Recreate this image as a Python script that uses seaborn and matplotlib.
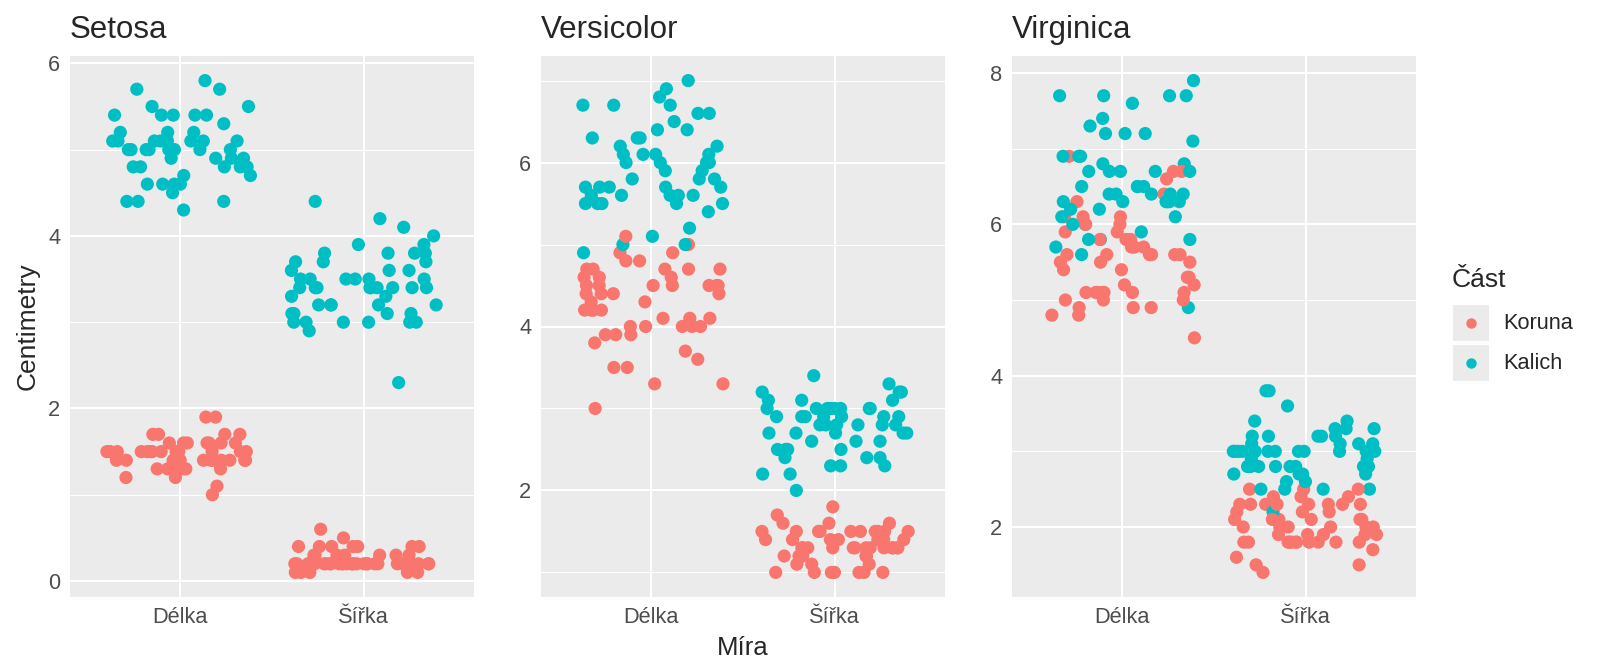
import numpy as np
import pandas as pd
import seaborn as sns
import matplotlib.pyplot as plt
from matplotlib.lines import Line2D
from matplotlib.ticker import MultipleLocator
from matplotlib.legend_handler import HandlerTuple, HandlerLine2D

# categories
species = ["Setosa", "Versicolor", "Virginica"]
measures = ["Délka", "Šířka"]
parts = ["Koruna", "Kalich"]
palette = {"Koruna": "#F8766D", "Kalich": "#00BFC4"}

# iris data, cm (Kalich = sepal, Koruna = petal)
setosa_kalich_delka = [5.1, 4.9, 4.7, 4.6, 5.0, 5.4, 4.6, 5.0, 4.4, 4.9, 5.4, 4.8, 4.8, 4.3, 5.8, 5.7, 5.4,
                       5.1, 5.7, 5.1, 5.4, 5.1, 4.6, 5.1, 4.8, 5.0, 5.0, 5.2, 5.2, 4.7, 4.8, 5.4, 5.2, 5.5,
                       4.9, 5.0, 5.5, 4.9, 4.4, 5.1, 5.0, 4.5, 4.4, 5.0, 5.1, 4.8, 5.1, 4.6, 5.3, 5.0]
setosa_kalich_sirka = [3.5, 3.0, 3.2, 3.1, 3.6, 3.9, 3.4, 3.4, 2.9, 3.1, 3.7, 3.4, 3.0, 3.0, 4.0, 4.4, 3.9,
                       3.5, 3.8, 3.8, 3.4, 3.7, 3.6, 3.3, 3.4, 3.0, 3.4, 3.5, 3.4, 3.2, 3.1, 3.4, 4.1, 4.2,
                       3.1, 3.2, 3.5, 3.6, 3.0, 3.4, 3.5, 2.3, 3.2, 3.5, 3.8, 3.0, 3.8, 3.2, 3.7, 3.3]
setosa_koruna_delka = [1.4, 1.4, 1.3, 1.5, 1.4, 1.7, 1.4, 1.5, 1.4, 1.5, 1.5, 1.6, 1.4, 1.1, 1.2, 1.5, 1.3,
                       1.4, 1.7, 1.5, 1.7, 1.5, 1.0, 1.7, 1.9, 1.6, 1.6, 1.5, 1.4, 1.6, 1.6, 1.5, 1.5, 1.4,
                       1.5, 1.2, 1.3, 1.4, 1.3, 1.5, 1.3, 1.3, 1.3, 1.6, 1.9, 1.4, 1.6, 1.4, 1.5, 1.4]
setosa_koruna_sirka = [0.2, 0.2, 0.2, 0.2, 0.2, 0.4, 0.3, 0.2, 0.2, 0.1, 0.2, 0.2, 0.1, 0.1, 0.2, 0.4, 0.4,
                       0.3, 0.3, 0.3, 0.2, 0.4, 0.2, 0.5, 0.2, 0.2, 0.4, 0.2, 0.2, 0.2, 0.2, 0.4, 0.1, 0.2,
                       0.2, 0.2, 0.2, 0.1, 0.2, 0.2, 0.3, 0.3, 0.2, 0.6, 0.4, 0.3, 0.2, 0.2, 0.2, 0.2]

versicolor_kalich_delka = [7.0, 6.4, 6.9, 5.5, 6.5, 5.7, 6.3, 4.9, 6.6, 5.2, 5.0, 5.9, 6.0, 6.1, 5.6, 6.7, 5.6,
                           5.8, 6.2, 5.6, 5.9, 6.1, 6.3, 6.1, 6.4, 6.6, 6.8, 6.7, 6.0, 5.7, 5.5, 5.5, 5.8, 6.0,
                           5.4, 6.0, 6.7, 6.3, 5.6, 5.5, 5.5, 6.1, 5.8, 5.0, 5.6, 5.7, 5.7, 6.2, 5.1, 5.7]
versicolor_kalich_sirka = [3.2, 3.2, 3.1, 2.3, 2.8, 2.8, 3.3, 2.4, 2.9, 2.7, 2.0, 3.0, 2.2, 2.9, 2.9, 3.1, 3.0,
                           2.7, 2.2, 2.5, 3.2, 2.8, 2.5, 2.8, 2.9, 3.0, 2.8, 3.0, 2.9, 2.6, 2.4, 2.4, 2.7, 2.7,
                           3.0, 3.4, 3.1, 2.3, 3.0, 2.5, 2.6, 3.0, 2.6, 2.3, 2.7, 3.0, 2.9, 2.9, 2.5, 2.8]
versicolor_koruna_delka = [4.7, 4.5, 4.9, 4.0, 4.6, 4.5, 4.7, 3.3, 4.6, 3.9, 3.5, 4.2, 4.0, 4.7, 3.6, 4.4, 4.5,
                           4.1, 4.5, 3.9, 4.8, 4.0, 4.9, 4.7, 4.3, 4.4, 4.8, 5.0, 4.5, 3.5, 3.8, 3.7, 3.9, 5.1,
                           4.5, 4.5, 4.7, 4.4, 4.1, 4.0, 4.4, 4.6, 4.0, 3.3, 4.2, 4.2, 4.2, 4.3, 3.0, 4.1]
versicolor_koruna_sirka = [1.4, 1.5, 1.5, 1.3, 1.5, 1.3, 1.6, 1.0, 1.3, 1.4, 1.0, 1.5, 1.0, 1.4, 1.3, 1.4, 1.5,
                           1.0, 1.5, 1.1, 1.8, 1.3, 1.5, 1.2, 1.3, 1.4, 1.4, 1.7, 1.5, 1.0, 1.1, 1.0, 1.2, 1.6,
                           1.5, 1.6, 1.5, 1.3, 1.3, 1.3, 1.2, 1.4, 1.2, 1.0, 1.3, 1.2, 1.3, 1.3, 1.1, 1.3]

virginica_kalich_delka = [6.3, 5.8, 7.1, 6.3, 6.5, 7.6, 4.9, 7.3, 6.7, 7.2, 6.5, 6.4, 6.8, 5.7, 5.8, 6.4, 6.5,
                          7.7, 7.7, 6.0, 6.9, 5.6, 7.7, 6.3, 6.7, 7.2, 6.2, 6.1, 6.4, 7.2, 7.4, 7.9, 6.4, 6.3,
                          6.1, 7.7, 6.3, 6.4, 6.0, 6.9, 6.7, 6.9, 5.8, 6.8, 6.7, 6.7, 6.3, 6.5, 6.2, 5.9]
virginica_kalich_sirka = [3.3, 2.7, 3.0, 2.9, 3.0, 3.0, 2.5, 2.9, 2.5, 3.6, 3.2, 2.7, 3.0, 2.5, 2.8, 3.2, 3.0,
                          3.8, 2.6, 2.2, 3.2, 2.8, 2.8, 2.7, 3.3, 3.2, 2.8, 3.0, 2.8, 3.0, 2.8, 3.8, 2.8, 2.8,
                          2.6, 3.0, 3.4, 3.1, 3.0, 3.1, 3.1, 3.1, 2.7, 3.2, 3.3, 3.0, 2.5, 3.0, 3.4, 3.0]
virginica_koruna_delka = [6.0, 5.1, 5.9, 5.6, 5.8, 6.6, 4.5, 6.3, 5.8, 6.1, 5.1, 5.3, 5.5, 5.0, 5.1, 5.3, 5.5,
                          6.7, 6.9, 5.0, 5.7, 4.9, 6.7, 4.9, 5.7, 6.0, 4.8, 4.9, 5.6, 5.8, 6.1, 6.4, 5.6, 5.1,
                          5.6, 6.1, 5.6, 5.5, 4.8, 5.4, 5.6, 5.1, 5.1, 5.9, 5.7, 5.2, 5.0, 5.2, 5.4, 5.1]
virginica_koruna_sirka = [2.5, 1.9, 2.1, 1.8, 2.2, 2.1, 1.7, 1.8, 1.8, 2.5, 2.0, 1.9, 2.1, 2.0, 2.4, 2.3, 1.8,
                          2.2, 2.3, 1.5, 2.3, 2.0, 2.0, 1.8, 2.1, 1.8, 1.8, 1.8, 2.1, 1.6, 1.9, 2.0, 2.2, 1.5,
                          1.4, 2.3, 2.4, 1.8, 1.8, 2.1, 2.4, 2.3, 1.9, 2.3, 2.5, 2.3, 1.9, 2.0, 2.3, 1.8]

data = {
    "Setosa": (setosa_kalich_delka, setosa_kalich_sirka, setosa_koruna_delka, setosa_koruna_sirka),
    "Versicolor": (versicolor_kalich_delka, versicolor_kalich_sirka, versicolor_koruna_delka, versicolor_koruna_sirka),
    "Virginica": (virginica_kalich_delka, virginica_kalich_sirka, virginica_koruna_delka, virginica_koruna_sirka),
}

# long format, one row per measurement (flower by flower)
rows = []
for sp in species:
    kd, ks, rd, rs = data[sp]
    for i in range(len(kd)):
        rows.append((sp, "Kalich", "Délka", kd[i]))
        rows.append((sp, "Kalich", "Šířka", ks[i]))
        rows.append((sp, "Koruna", "Délka", rd[i]))
        rows.append((sp, "Koruna", "Šířka", rs[i]))
df = pd.DataFrame(rows, columns=["Druh", "Část", "Míra", "cm"])


# legend marker centred in its key box
class CenteredMarker(HandlerLine2D):
    def create_artists(self, legend, orig_handle, xdescent, ydescent, width, height, fontsize, trans):
        artists = super().create_artists(legend, orig_handle, xdescent, ydescent, width, height,
                                         fontsize, trans)
        for a in artists:
            a.set_ydata(np.full_like(a.get_ydata(), height / 2 - ydescent))
        return artists


sns.set_style("white")
plt.rcParams["font.family"] = ["Liberation Sans", "DejaVu Sans"]

np.random.seed(7)
fig = plt.figure(figsize=(16, 6.71), dpi=100)
lefts = [70 / 1600, 541 / 1600, 1012 / 1600]
axes = [fig.add_axes([l, 74 / 671, 404 / 1600, 541 / 671]) for l in lefts]

for ax, sp in zip(axes, species):
    sub = df[df["Druh"] == sp]
    sns.stripplot(data=sub, x="Míra", y="cm", hue="Část", order=measures, hue_order=parts,
                  palette=palette, jitter=0.4, size=9.5, linewidth=0, legend=False, ax=ax)
    lo, hi = sub["cm"].min(), sub["cm"].max()
    pad = 0.05 * (hi - lo)
    ax.set_ylim(lo - pad, hi + pad)
    ax.set_xlim(-0.6, 1.6)

    ax.set_facecolor("#EBEBEB")
    for s in ax.spines.values():
        s.set_visible(False)
    ax.yaxis.set_major_locator(MultipleLocator(2))
    ax.yaxis.set_minor_locator(MultipleLocator(1))
    ax.grid(which="major", axis="both", color="white", linewidth=1.5)
    ax.grid(which="minor", axis="y", color="white", linewidth=0.75)
    ax.set_axisbelow(True)
    ax.tick_params(which="major", length=4, width=1.3, color="#333333", labelcolor="#4D4D4D",
                   labelsize=15.7, pad=3)
    ax.tick_params(which="minor", length=0)
    ax.set_title(sp, loc="left", fontsize=22.5, pad=13)
    ax.set_xlabel("")
    ax.set_ylabel("")

axes[0].set_ylabel("Centimetry", fontsize=19, labelpad=6)
axes[1].set_xlabel("Míra", fontsize=18.5, labelpad=6)

# legend with grey key boxes
handles = []
for p in parts:
    box = Line2D([], [], marker="s", markersize=26.5, markeredgewidth=0, color="#EBEBEB", linestyle="")
    dot = Line2D([], [], marker="o", markersize=7.5, markeredgewidth=0, color=palette[p], linestyle="")
    handles.append((box, dot))
leg = fig.legend(handles, parts, title="Část", loc="upper left", bbox_to_anchor=(1452 / 1600, 1 - 268 / 671),
                 frameon=False, fontsize=15.7, title_fontsize=19, handlelength=1.72, handleheight=2.27,
                 handletextpad=0.62, labelspacing=0.12, borderpad=0, borderaxespad=0, alignment="left",
                 handler_map={tuple: HandlerTuple(ndivide=1), Line2D: CenteredMarker()})
leg._legend_box.sep = 8.5

fig.savefig("out.png", dpi=100)
